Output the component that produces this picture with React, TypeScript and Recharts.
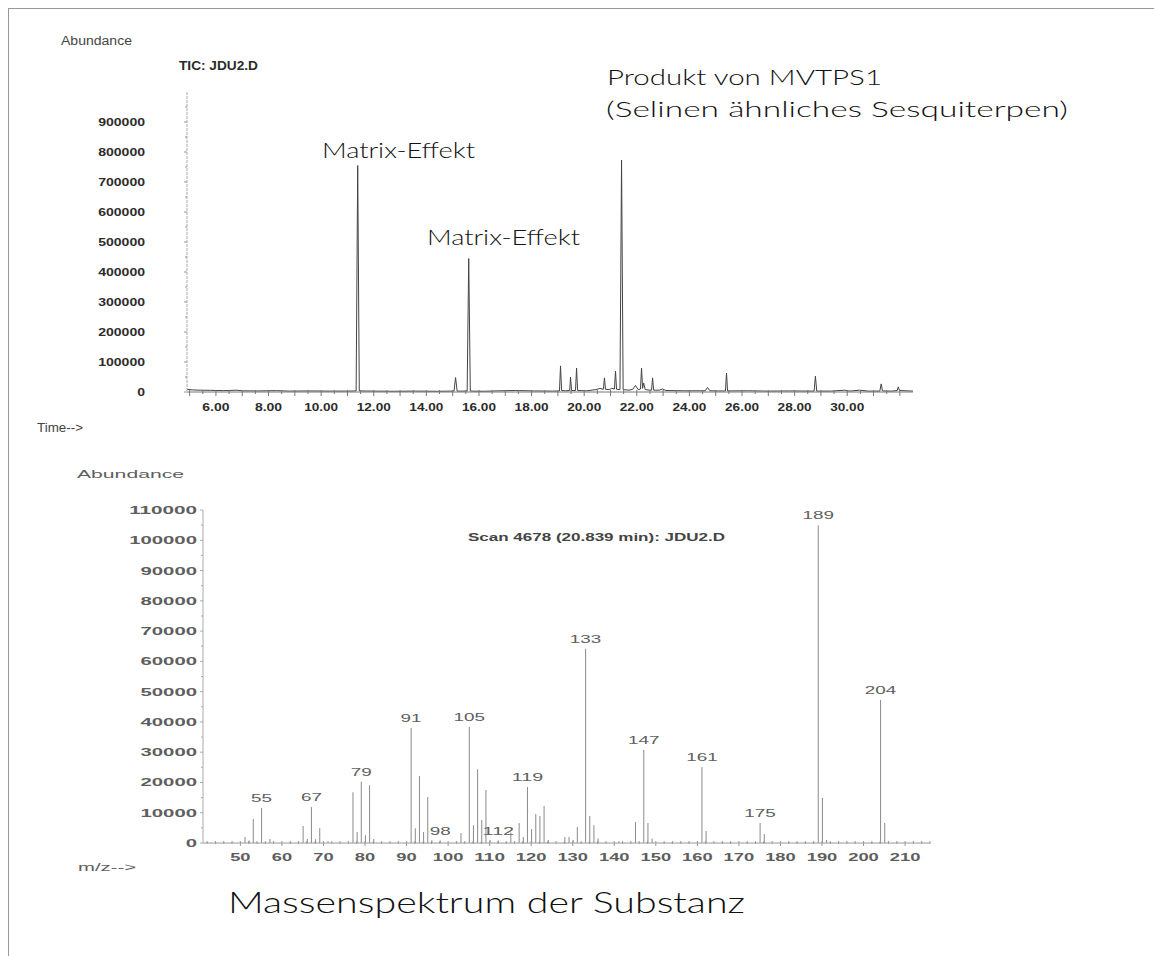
import React from 'react';
import { LineChart, Line, BarChart, Bar, XAxis, YAxis, LabelList } from 'recharts';

// TIC trace (retention time in min, abundance)
const ticTime = [
  4.9, 5.1, 5.4, 5.8, 6.3, 6.8, 7.0, 7.6, 8.3, 8.8, 9.5, 10.3, 11.0,
  11.33, 11.39, 11.45, 12.0, 12.8, 13.6, 14.4,
  15.05, 15.11, 15.17, 15.55, 15.61, 15.67, 16.2, 16.8, 17.4, 18.1, 18.8,
  19.06, 19.1, 19.14, 19.3, 19.45, 19.48, 19.52, 19.67, 19.71, 19.75,
  20.1, 20.45, 20.6, 20.73, 20.77, 20.81, 20.95, 21.05, 21.15, 21.19, 21.23,
  21.36, 21.42, 21.48, 21.7, 21.85, 21.95, 22.05, 22.14, 22.18, 22.22, 22.26, 22.32,
  22.5, 22.56, 22.6, 22.64, 22.85, 22.98, 23.1, 23.8, 24.6, 24.69, 24.78,
  25.1, 25.37, 25.41, 25.45, 26.2, 27.0, 27.8, 28.74, 28.79, 28.84,
  29.4, 29.9, 30.1, 30.46, 30.8, 31.24, 31.29, 31.34, 31.7, 31.9, 31.94, 31.99, 32.5,
];
const ticAbundance = [
  9000, 7000, 6000, 5500, 4500, 6000, 4000, 3500, 4500, 3000, 3500, 3000, 3000,
  3500, 755000, 3500, 3000, 2500, 3000, 2500,
  3000, 48000, 3000, 3000, 445000, 3000, 2500, 4000, 5000, 3500, 3000,
  3500, 87000, 5000, 4000, 5000, 50000, 5000, 5000, 80000, 5000,
  4000, 8000, 12000, 9000, 47000, 9000, 8000, 12000, 10000, 70000, 9000,
  8000, 773000, 8000, 6000, 9000, 22000, 8000, 10000, 80000, 12000, 30000, 8000,
  6000, 6000, 47000, 6000, 6000, 10000, 5000, 4000, 4000, 15000, 4000,
  3500, 3500, 63000, 3500, 4000, 3000, 3500, 3000, 53000, 3000,
  3000, 6000, 3000, 6000, 3000, 3000, 27000, 3500, 3000, 5000, 17000, 5000, 3000,
];
const ticYLabels = [0, 100000, 200000, 300000, 400000, 500000, 600000, 700000, 800000, 900000];
const ticXLabels = [6, 8, 10, 12, 14, 16, 18, 20, 22, 24, 26, 28, 30];

// mass spectrum of scan 4678
const massMz = [
  51, 52, 53, 55, 57, 65, 66, 67, 68, 69, 71, 77, 78, 79, 80, 81, 82,
  91, 92, 93, 94, 95, 96, 98, 103, 105, 106, 107, 108, 109, 110, 112,
  115, 117, 118, 119, 120, 121, 122, 123, 124, 128, 129, 130, 131,
  133, 134, 135, 136, 141, 145, 147, 148, 149, 161, 162, 175, 176,
  189, 190, 191, 204, 205,
];
const massAbund = [
  2000, 800, 7900, 11600, 1300, 5600, 1300, 11900, 1200, 4900, 600, 16800, 3600, 20200, 2600, 19100, 1300,
  38000, 4900, 22100, 3600, 15200, 900, 800, 3300, 38300, 5900, 24400, 7600, 17500, 1000, 800,
  3500, 6600, 2000, 18500, 4600, 9600, 8900, 12200, 1000, 2000, 2000, 1000, 5300,
  64200, 8900, 5900, 1500, 600, 6900, 30700, 6600, 1500, 25100, 4000, 6600, 3000,
  105000, 14900, 1000, 47200, 6600,
];
const massLabels = [55, 67, 79, 91, 98, 105, 112, 119, 133, 147, 161, 175, 189, 204];
const massYLabels = [0, 10000, 20000, 30000, 40000, 50000, 60000, 70000, 80000, 90000, 100000, 110000];
const massXLabels = [50, 60, 70, 80, 90, 100, 110, 120, 130, 140, 150, 160, 170, 180, 190, 200, 210];

const ticData = ticTime.map((t, i) => ({ t, a: ticAbundance[i] }));
const massData = massMz.map((mz, i) => ({
  mz,
  ab: massAbund[i],
  label: massLabels.includes(mz) ? String(mz) : '',
}));

const ticYTicks = Array.from({ length: 20 }, (_, i) => i * 50000);
const ticXTicks = Array.from({ length: 55 }, (_, i) => 5 + i * 0.5);
const massYTicks = Array.from({ length: 23 }, (_, i) => i * 5000);
const massXTicks = Array.from({ length: 88 }, (_, i) => 42 + i * 2);

const FONT = '"Liberation Sans", Arial, sans-serif';
const NOTE_FONT = 'Lato, "Liberation Sans", sans-serif';
const DARK = '#2b2b2b';
const GREY = '#5e5e5e';

const TicYTick = (props: any) => {
  const { x, y, payload } = props;
  const v = payload.value;
  const labelled = ticYLabels.includes(v);
  return (
    <g>
      <line x1={x - (labelled ? 3 : 2)} x2={x} y1={y} y2={y} stroke="#999" />
      {labelled && (
        <text x={x - 42} y={y + 4} textAnchor="end" fontFamily={FONT} fontWeight="bold" fontSize={11.5}
          fill={DARK} textLength={String(v).length * 7.8} lengthAdjust="spacingAndGlyphs">{v}</text>
      )}
    </g>
  );
};

const TicXTick = (props: any) => {
  const { x, y, payload } = props;
  const v = payload.value;
  const whole = Math.abs(v - Math.round(v)) < 1e-6;
  const labelled = ticXLabels.includes(v);
  const s = v.toFixed(2);
  return (
    <g>
      <line x1={x} x2={x} y1={y - 2} y2={y + (whole ? 4 : 2)} stroke="#777" />
      {labelled && (
        <text x={x} y={y + 19} textAnchor="middle" fontFamily={FONT} fontWeight="bold" fontSize={11.5}
          fill={DARK} textLength={s.length * 6.8} lengthAdjust="spacingAndGlyphs">{s}</text>
      )}
    </g>
  );
};

const MassYTick = (props: any) => {
  const { x, y, payload } = props;
  const v = payload.value;
  const labelled = massYLabels.includes(v);
  return (
    <g>
      <line x1={x - (labelled ? 3 : 2)} x2={x} y1={y} y2={y} stroke="#aaa" />
      {labelled && (
        <text x={x - 6} y={y + 4} textAnchor="end" fontFamily={FONT} fontWeight="bold" fontSize={11}
          fill={GREY} textLength={String(v).length * 11.3} lengthAdjust="spacingAndGlyphs">{v}</text>
      )}
    </g>
  );
};

const MassXTick = (props: any) => {
  const { x, y, payload } = props;
  const v = payload.value;
  const labelled = massXLabels.includes(v);
  return (
    <g>
      <line x1={x} x2={x} y1={y - 2} y2={y + (labelled ? 3 : 1)} stroke="#999" />
      {labelled && (
        <text x={x} y={y + 18} textAnchor="middle" fontFamily={FONT} fontWeight="bold" fontSize={11}
          fill={GREY} textLength={String(v).length * 10.2} lengthAdjust="spacingAndGlyphs">{v}</text>
      )}
    </g>
  );
};

const PeakLabel = (props: any) => {
  const { x, y, width, value } = props;
  if (!value) return null;
  return (
    <text x={x + width / 2} y={y - 6} textAnchor="middle" fontFamily={FONT} fontSize={10.5}
      fill={GREY} textLength={String(value).length * 10.5} lengthAdjust="spacingAndGlyphs">{value}</text>
  );
};

const Note = ({ x, y, w, size, children }: any) => (
  <text x={x} y={y} fontFamily={NOTE_FONT} fontWeight={300} fontSize={size} fill="#111"
    textLength={w} lengthAdjust="spacingAndGlyphs">
    {children}
  </text>
);

const App: React.FC = () => {
  return (
    <div style={{ position: 'fixed', left: 0, top: 0, width: 1154, height: 956, background: '#fff', overflow: 'hidden' }}>
      <div style={{ position: 'absolute', left: 8, top: 8, width: 1146, height: 948, borderLeft: '1px solid #999', borderTop: '1px solid #999' }} />

      <div style={{ position: 'absolute', left: 0, top: 0 }}>
        <LineChart width={1154} height={440} data={ticData} margin={{ top: 92, right: 241, bottom: 18, left: 87 }}>
          <XAxis dataKey="t" type="number" domain={[4.9, 32.5]} allowDataOverflow ticks={ticXTicks} interval={0}
            tick={<TicXTick />} tickLine={false} tickSize={0} tickMargin={0} height={30} axisLine={{ stroke: '#777' }} />
          <YAxis type="number" domain={[0, 1000000]} ticks={ticYTicks} interval={0} tick={<TicYTick />}
            tickLine={false} tickSize={0} tickMargin={0} width={100} axisLine={{ stroke: '#aaa', strokeDasharray: '3 1' }} />
          <Line type="linear" dataKey="a" stroke="#444" strokeWidth={1} dot={false} isAnimationActive={false} />
        </LineChart>
      </div>

      <div style={{ position: 'absolute', left: 0, top: 480 }}>
        <BarChart width={1154} height={400} data={massData} margin={{ top: 30, right: 224, bottom: 7, left: 103 }}>
          <XAxis dataKey="mz" type="number" domain={[41, 216]} allowDataOverflow ticks={massXTicks} interval={0}
            tick={<MassXTick />} tickLine={false} tickSize={0} tickMargin={0} height={30} axisLine={{ stroke: '#999' }} />
          <YAxis type="number" domain={[0, 110000]} ticks={massYTicks} interval={0} tick={<MassYTick />}
            tickLine={false} tickSize={0} tickMargin={0} width={100} axisLine={{ stroke: '#aaa' }} />
          <Bar dataKey="ab" fill="#8a8a8a" barSize={1} isAnimationActive={false}>
            <LabelList dataKey="label" content={<PeakLabel />} />
          </Bar>
        </BarChart>
      </div>

      <svg width={1154} height={956} style={{ position: 'absolute', left: 0, top: 0, pointerEvents: 'none' }}>
        <text x={61} y={45} fontFamily={FONT} fontSize={12.5} fill="#444" textLength={71} lengthAdjust="spacingAndGlyphs">Abundance</text>
        <text x={179} y={70} fontFamily={FONT} fontSize={12.5} fontWeight="bold" fill={DARK} textLength={79} lengthAdjust="spacingAndGlyphs">TIC: JDU2.D</text>
        <text x={37} y={432} fontFamily={FONT} fontSize={12} fill="#444" textLength={46} lengthAdjust="spacingAndGlyphs">Time--&gt;</text>
        <text x={77} y={478} fontFamily={FONT} fontSize={11} fill={GREY} textLength={107} lengthAdjust="spacingAndGlyphs">Abundance</text>
        <text x={468} y={541} fontFamily={FONT} fontSize={10.5} fontWeight="bold" fill="#444" textLength={257} lengthAdjust="spacingAndGlyphs">Scan 4678 (20.839 min): JDU2.D</text>
        <text x={78} y={871} fontFamily={FONT} fontSize={11} fill={GREY} textLength={58} lengthAdjust="spacingAndGlyphs">m/z--&gt;</text>

        <Note x={322} y={158} w={153} size={22}>Matrix-Effekt</Note>
        <Note x={427} y={245} w={153} size={22}>Matrix-Effekt</Note>
        <Note x={607} y={85} w={275} size={22}>Produkt von MVTPS1</Note>
        <Note x={606} y={117} w={462} size={22}>(Selinen ähnliches Sesquiterpen)</Note>
        <Note x={228} y={913} w={517} size={30}>Massenspektrum der Substanz</Note>
      </svg>
    </div>
  );
};

export default App;
